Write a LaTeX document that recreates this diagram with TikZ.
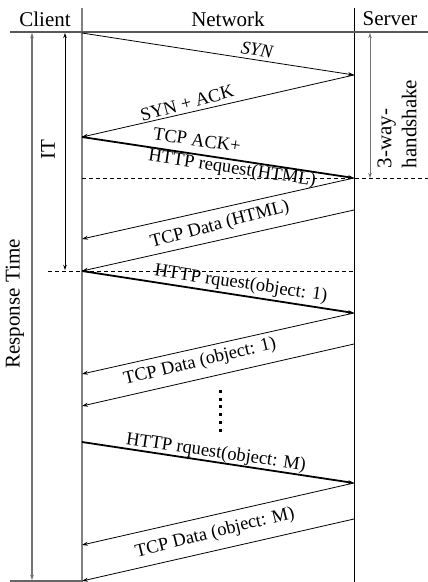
\documentclass[tikz,border=0pt]{standalone}
\usepackage{fontspec}
\setmainfont{Liberation Serif}
\usetikzlibrary{arrows.meta}
\begin{document}
\begin{tikzpicture}[x=1pt,y=-1pt,
  msg/.style={draw, line width=0.8pt, -{Stealth[length=6pt,width=4pt]}},
  msgb/.style={draw, line width=1.8pt, -{Stealth[length=6pt,width=4pt]}},
  lbl/.style={font=\fontsize{18.5}{20}\selectfont, inner sep=0pt},
  hdr/.style={font=\fontsize{21}{25}\selectfont, inner sep=0pt},
  span/.style={draw, line width=1pt, {Stealth[length=5pt,width=3.5pt]}-{Stealth[length=5pt,width=3.5pt]}},
  dline/.style={draw, line width=0.8pt, dash pattern=on 4pt off 3pt},
  lifeline/.style={draw, line width=1.4pt}
]
\useasboundingbox (0,0) rectangle (428,582);

% lifelines and frame lines
\coordinate (cTop) at (82,8);
\coordinate (cBot) at (82,582);
\coordinate (sTop) at (354,8);
\coordinate (sBot) at (354,582);
\coordinate (hL) at (10,32);
\coordinate (hR) at (428,32);
\coordinate (bL) at (10,581);
\coordinate (bR) at (82,581);
\draw[lifeline, black!50] (cTop) -- (cBot);
\draw[line width=1pt, black] (sTop) -- (sBot);
\draw[line width=1.2pt, black!65] (hL) -- (hR);
\draw[line width=1.2pt, black!60] (bL) -- (bR);

% headers
\node[hdr] (client) at (45,19) {Client};
\node[hdr] (network) at (228,19) {Network};
\node[hdr] (server) at (390,19) {Server};

% message points
\coordinate (c0) at (82,33);
\coordinate (s1) at (354,75);
\coordinate (c1) at (82,137);
\coordinate (s2) at (354,178);
\coordinate (c2) at (82,239);
\coordinate (s2b) at (354,210);
\coordinate (c3) at (82,271);
\coordinate (s3) at (354,313);
\coordinate (c4) at (82,374);
\coordinate (s3b) at (354,344);
\coordinate (c5) at (82,406);
\coordinate (c6) at (82,442);
\coordinate (s6) at (354,483);
\coordinate (c7) at (82,545);
\coordinate (s6b) at (354,519);
\coordinate (c8) at (82,581);

% dashed lines
\coordinate (d1a) at (82,178);
\coordinate (d1b) at (428,178);
\coordinate (d2a) at (48,271);
\coordinate (d2b) at (354,271);
\draw[dline] (d1a) -- (d1b);
\draw[dline] (d2a) -- (d2b);

% messages
\draw[msg] (c0) -- (s1);
\draw[msg] (s1) -- (c1);
\draw[msgb] (c1) -- (s2);
\draw[msg] (s2) -- (c2);
\draw[msg] (s2b) -- (c3);
\draw[msgb] (c3) -- (s3);
\draw[msg] (s3) -- (c4);
\draw[msg] (s3b) -- (c5);
\draw[msgb] (c6) -- (s6);
\draw[msg] (s6) -- (c7);
\draw[msg] (s6b) -- (c8);

% labels
\node[lbl, rotate=-8.5] (lsyn) at (257,50) {\itshape SYN};
\node[lbl, rotate=15] (lsynack) at (187,103) {SYN + ACK};
\node[lbl, rotate=-8.5] (lack) at (197,140) {TCP ACK+};
\node[lbl, rotate=-8.5] (lreq) at (232,169) {HTTP request(HTML)};
\node[lbl, rotate=15] (ldata) at (220,225) {TCP Data (HTML)};
\node[lbl, rotate=-8.3] (lreq1) at (241,284) {HTTP rquest(object: 1)};
\node[lbl, rotate=13.5] (ldata1) at (200,362) {TCP Data (object: 1)};
\node[lbl, rotate=-8.3] (lreqM) at (216,453) {HTTP rquest(object: M)};
\node[lbl, rotate=14] (ldataM) at (215,533) {TCP Data (object: M)};

% vertical ellipsis
\coordinate (e1) at (220,390);
\coordinate (e2) at (220,434);
\draw[line width=3pt, dash pattern=on 3pt off 4.7pt] (e1) -- (e2);

% spans
\coordinate (rt1) at (32,33);
\coordinate (rt2) at (32,580);
\draw[span, black!55, line width=1.2pt] (rt1) -- (rt2);
\node[hdr, rotate=90] (lrt) at (15,304) {Response Time};

\coordinate (it1) at (65,33);
\coordinate (it2) at (65,270);
\draw[span] (it1) -- (it2);
\node[hdr, rotate=90] (lit) at (48,150) {IT};

\coordinate (hs1) at (370,33);
\coordinate (hs2) at (370,178);
\draw[span, black!55] (hs1) -- (hs2);
\node[hdr, rotate=90, align=left] (lhs) at (397,124) {3-way-\\handshake};
\end{tikzpicture}
\end{document}
